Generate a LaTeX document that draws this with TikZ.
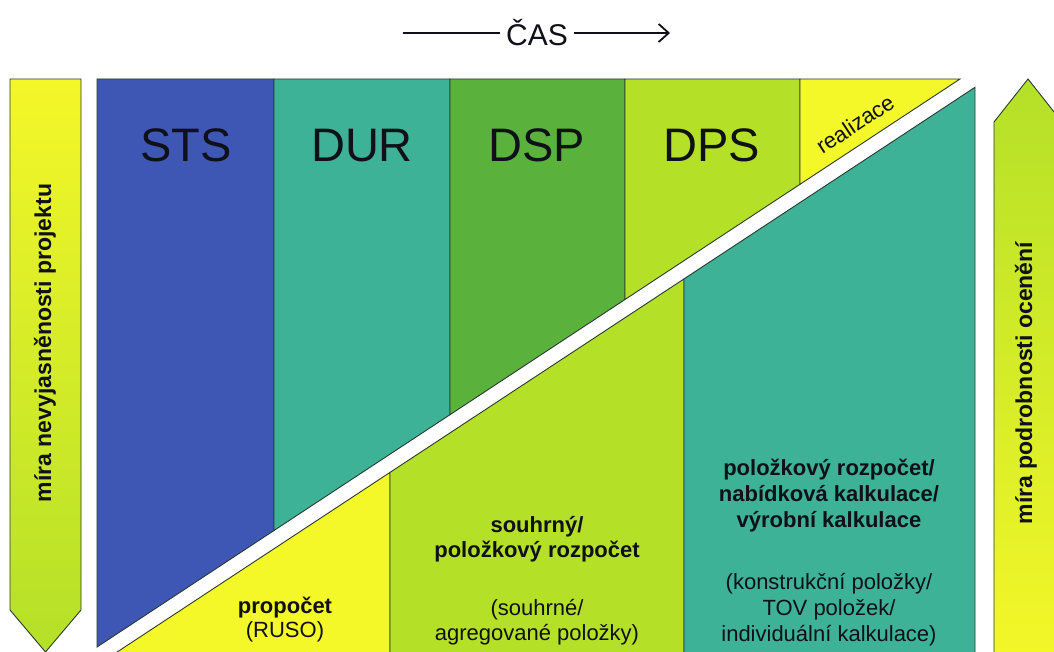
\documentclass[tikz,border=0pt]{standalone}
\usepackage{fontspec}
\setmainfont{Liberation Sans}
\usetikzlibrary{arrows.meta}
\definecolor{cblue}{HTML}{3F57B4}
\definecolor{cteal}{HTML}{3EB296}
\definecolor{cgreen}{HTML}{5AB23C}
\definecolor{clime}{HTML}{B4E028}
\definecolor{cyellow}{HTML}{F4F728}
\definecolor{outl}{HTML}{2A3A30}
\definecolor{txt}{HTML}{101018}
\tikzset{
  region/.style={draw=outl, line width=0.9pt, line join=miter},
  phase/.style={font=\fontsize{47}{50}\selectfont, anchor=base, text=txt},
  boldline/.style={font=\bfseries\fontsize{22}{26}\selectfont, anchor=base, text=txt},
  subline/.style={font=\fontsize{22}{26}\selectfont, anchor=base, text=txt},
  sidetext/.style={font=\bfseries\fontsize{23}{26}\selectfont, rotate=90, text=txt},
}
\begin{document}
\begin{tikzpicture}[x=1pt,y=-1pt]
\useasboundingbox (0,0) rectangle (1054,652);
\clip (0,0) rectangle (1054,652);
\fill[white] (0,0) rectangle (1054,652);

% time arrow
\node[font=\fontsize{30}{32}\selectfont, text=txt, inner sep=6pt] (cas) at (537,33) {ČAS};
\coordinate (tl) at (403,33);
\coordinate (tr) at (670,33);
\draw[line width=1.8pt, txt] (tl) -- (cas.west);
\draw[line width=1.8pt, txt, -{Straight Barb[length=10pt, width=18pt, line width=1.8pt]}] (cas.east) -- (tr);

% side arrows
\path[region, top color=cyellow, bottom color=clime] (10,79) -- (81,79) -- (81,610) -- (45.5,652) -- (10,610) -- cycle;
\path[region, top color=clime, bottom color=cyellow] (994,660) -- (994,122) -- (1028,79) -- (1062,122) -- (1062,660) -- cycle;
\node[sidetext] (leftlbl) at (45,343) {míra nevyjasněnosti projektu};
\node[sidetext] (rightlbl) at (1026,383) {míra podrobnosti ocenění};

% upper phases
\path[region, fill=cblue] (97,79) -- (274,79) -- (274,530.5) -- (97,647) -- cycle;
\path[region, fill=cteal] (274,79) -- (450,79) -- (450,414.7) -- (274,530.5) -- cycle;
\path[region, fill=cgreen] (450,79) -- (625,79) -- (625,299.5) -- (450,414.7) -- cycle;
\path[region, fill=clime] (625,79) -- (800,79) -- (800,184.3) -- (625,299.5) -- cycle;
\path[region, fill=cyellow] (800,79) -- (960,79) -- (800,184.3) -- cycle;

\node[phase] (sts) at (186,162) {STS};
\node[phase] (dur) at (362,162) {DUR};
\node[phase] (dsp) at (537,162) {DSP};
\node[phase] (dps) at (712,162) {DPS};
\node[font=\fontsize{22}{24}\selectfont, text=txt, rotate=33.35, inner sep=0pt] (real) at (855,124) {realizace};

% lower estimates
\path[region, fill=cyellow] (112.6,655) -- (390,472.4) -- (390,660) -- (112.6,660) -- cycle;
\path[region, fill=clime] (390,660) -- (390,472.4) -- (684,278.9) -- (684,660) -- cycle;
\path[region, fill=cteal] (684,660) -- (684,278.9) -- (975,87.3) -- (975,660) -- cycle;

\node[boldline] (p1) at (285,613) {propočet};
\node[subline] (p2) at (285,637) {(RUSO)};

\node[boldline] (s1) at (537,532) {souhrný/};
\node[boldline] (s2) at (537,557) {položkový rozpočet};
\node[subline] (s3) at (537,615) {(souhrné/};
\node[subline] (s4) at (537,640) {agregované položky)};

\node[boldline] (k1) at (829,475) {položkový rozpočet/};
\node[boldline] (k2) at (829,501) {nabídková kalkulace/};
\node[boldline] (k3) at (829,527) {výrobní kalkulace};
\node[subline] (k4) at (829,589) {(konstrukční položky/};
\node[subline] (k5) at (829,615) {TOV položek/};
\node[subline] (k6) at (829,641) {individuální kalkulace)};
\end{tikzpicture}
\end{document}
